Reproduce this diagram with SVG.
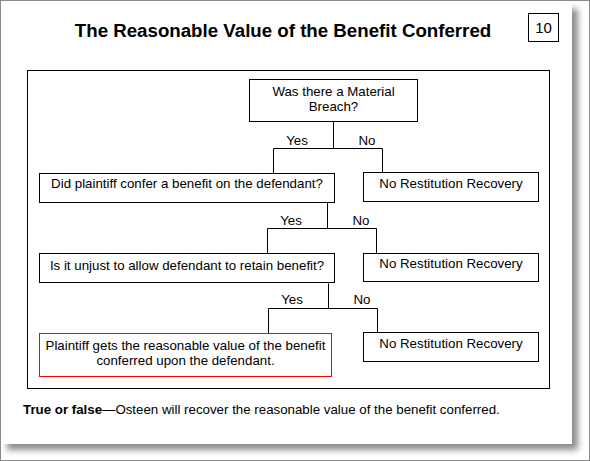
<svg xmlns="http://www.w3.org/2000/svg" width="590" height="461" viewBox="0 0 590 461">
<style>
  .box{fill:#fff;stroke:#000;stroke-width:1}
  .red{fill:#fff;stroke:#ff0000;stroke-width:1}
  .t{font-family:"Liberation Sans",Arial,sans-serif;font-size:13.3px;fill:#000;text-anchor:middle}
  .conn{stroke:#000;stroke-width:1;fill:none}
</style>
<defs>
  <filter id="sh" x="-5%" y="-5%" width="110%" height="110%">
    <feGaussianBlur stdDeviation="3"/>
  </filter>
</defs>
<rect x="0" y="0" width="590" height="461" fill="#fff"/>
<rect x="7" y="9" width="571" height="441" fill="#8c8c8c" filter="url(#sh)"/>
<rect x="0" y="0" width="572" height="444" fill="#fff"/>
<rect x="0.5" y="0.5" width="589" height="460" fill="none" stroke="#8a8a8a"/>

<text x="283" y="37" font-family="'Liberation Sans',Arial,sans-serif" font-size="18.7" font-weight="bold" text-anchor="middle">The Reasonable Value of the Benefit Conferred</text>
<g id="pagenum">
  <rect x="528.5" y="13.5" width="30" height="28" class="box"/>
  <text x="543.5" y="32.5" class="t" style="font-size:15px">10</text>
</g>

<rect x="27.5" y="70.5" width="522" height="318" fill="none" stroke="#000"/>

<g id="connectors">
  <path class="conn" d="M333.5 121.5V148.5M273.5 173V148.5H382.5V172"/>
  <path class="conn" d="M327.5 202.5V228.5M267.5 253V228.5H376.5V253"/>
  <path class="conn" d="M328.5 283.5V308.5M268.5 333V308.5H377.5V332"/>
  <text class="t" x="297" y="145">Yes</text>
  <text class="t" x="367" y="145">No</text>
  <text class="t" x="291" y="225">Yes</text>
  <text class="t" x="361" y="225">No</text>
  <text class="t" x="292" y="304">Yes</text>
  <text class="t" x="362" y="304">No</text>
</g>

<g id="breach">
  <rect x="249.5" y="79.5" width="168" height="42" class="box"/>
  <text class="t" x="333.5" y="96">Was there a Material</text>
  <text class="t" x="333.5" y="111">Breach?</text>
</g>
<g id="confer">
  <rect x="39.5" y="173.5" width="295" height="29" class="box"/>
  <text class="t" x="187" y="188">Did plaintiff confer a benefit on the defendant?</text>
</g>
<g id="norecovery1">
  <rect x="363.5" y="172.5" width="175" height="29" class="box"/>
  <text class="t" x="451" y="188">No Restitution Recovery</text>
</g>
<g id="unjust">
  <rect x="39.5" y="253.5" width="295" height="29" class="box"/>
  <text class="t" x="187" y="270">Is it unjust to allow defendant to retain benefit?</text>
</g>
<g id="norecovery2">
  <rect x="363.5" y="253.5" width="175" height="28" class="box"/>
  <text class="t" x="451" y="268">No Restitution Recovery</text>
</g>
<g id="result">
  <rect x="39.5" y="333.5" width="292" height="43" class="red"/>
  <text class="t" x="185.5" y="350">Plaintiff gets the reasonable value of the benefit</text>
  <text class="t" x="185.5" y="365">conferred upon the defendant.</text>
</g>
<g id="norecovery3">
  <rect x="363.5" y="332.5" width="175" height="29" class="box"/>
  <text class="t" x="451" y="348">No Restitution Recovery</text>
</g>

<text x="23" y="414" font-family="'Liberation Sans',Arial,sans-serif" font-size="13.3"><tspan font-weight="bold">True or false</tspan>—Osteen will recover the reasonable value of the benefit conferred.</text>
</svg>
